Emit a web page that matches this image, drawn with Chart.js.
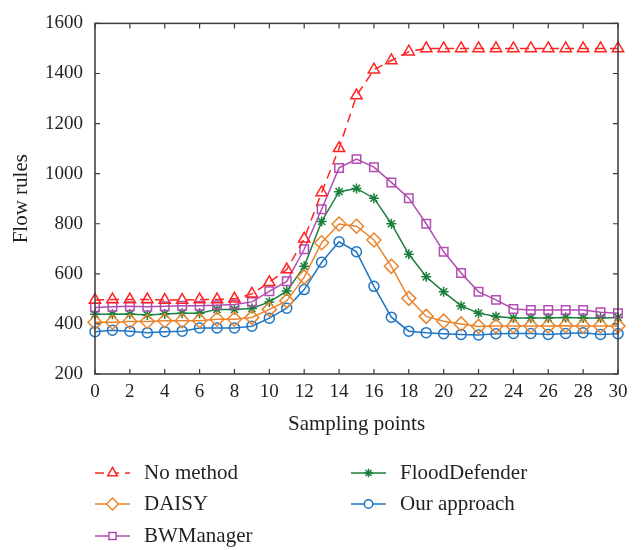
<!DOCTYPE html>
<html>
<head>
<meta charset="utf-8">
<script src="https://cdn.jsdelivr.net/npm/chart.js@4.4.0/dist/chart.umd.min.js"></script>
<style>
    html, body { margin: 0; padding: 0; background: #fff; }
    #wrap { width: 641px; height: 550px; }
</style>
</head>
<body>
<div id="wrap"><canvas id="chart0" width="641" height="550"></canvas></div>
<script>
// Sampling points on the x axis
const samplePoints = [0,1,2,3,4,5,6,7,8,9,10,11,12,13,14,15,16,17,18,19,20,21,22,23,24,25,26,27,28,29,30];
const xTicks = [0,2,4,6,8,10,12,14,16,18,20,22,24,26,28,30];
const yTicks = [200,400,600,800,1000,1200,1400,1600];

// Flow rules per method
const noMethod = [495,497,497,497,495,495,497,497,500,520,566,617,740,925,1101,1312,1415,1452,1487,1500,1500,1500,1500,1500,1500,1500,1500,1500,1500,1500,1500];
const daisy = [407,407,410,410,413,413,413,419,419,426,458,492,587,724,799,790,735,630,502,430,411,400,390,392,392,392,392,393,392,392,392];
const bwManager = [466,469,471,469,471,473,473,475,478,488,530,570,698,858,1023,1058,1026,965,902,800,688,603,528,496,460,456,456,456,456,447,443];
const floodDefender = [439,439,440,436,440,443,443,458,458,462,488,531,630,809,928,941,902,800,678,588,528,472,443,430,424,424,424,426,424,424,426];
const ourApproach = [369,375,371,365,369,371,384,384,384,391,423,463,537,646,728,688,550,427,371,365,361,358,356,361,362,362,358,362,365,358,361];

const seriesNames = ['No method', 'DAISY', 'BWManager', 'FloodDefender', 'Our approach'];

const FONT = '"Liberation Serif", "DejaVu Serif", serif';
const TEXT = '#231f20';
const AXIS = '#3a3a3a';

function toPoints(values) {
    return samplePoints.map(function (x, i) {
        return { x: x, y: values[i] };
    });
}

function makeDataset(label, values, color, style, radius, dash) {
    return {
        label: label,
        data: toPoints(values),
        borderColor: color,
        backgroundColor: 'rgba(0,0,0,0)',
        borderWidth: 1.5,
        borderDash: dash || [],
        pointStyle: style,
        pointRadius: radius,
        pointBorderWidth: 1.5,
        pointBorderColor: color,
        pointBackgroundColor: 'rgba(0,0,0,0)',
        tension: 0,
        clip: false
    };
}

// Box around the plot with inward ticks on all four sides
const framePlugin = {
    id: 'frame',
    afterDatasetsDraw: function (chart) {
        const ctx = chart.ctx;
        const area = chart.chartArea;
        const xs = chart.scales.x;
        const ys = chart.scales.y;
        const len = 5;
        ctx.save();
        ctx.strokeStyle = AXIS;
        ctx.lineWidth = 1.5;
        ctx.strokeRect(area.left, area.top, area.right - area.left, area.bottom - area.top);
        ctx.lineWidth = 1.2;
        ctx.beginPath();
        xTicks.forEach(function (v) {
            const px = xs.getPixelForValue(v);
            ctx.moveTo(px, area.bottom);
            ctx.lineTo(px, area.bottom - len);
            ctx.moveTo(px, area.top);
            ctx.lineTo(px, area.top + len);
        });
        yTicks.forEach(function (v) {
            const py = ys.getPixelForValue(v);
            ctx.moveTo(area.left, py);
            ctx.lineTo(area.left + len, py);
            ctx.moveTo(area.right, py);
            ctx.lineTo(area.right - len, py);
        });
        ctx.stroke();
        ctx.restore();
    }
};

// Two-column legend below the axis title, filled column by column
const legendPlugin = {
    id: 'colLegend',
    afterDraw: function (chart) {
        const ctx = chart.ctx;
        const area = chart.chartArea;
        const cols = [area.left, area.left + 256];
        const rows = [area.bottom + 99, area.bottom + 130, area.bottom + 162];
        ctx.save();
        chart.data.datasets.forEach(function (ds, i) {
            const col = Math.floor(i / 3);
            const row = i % 3;
            const x0 = cols[col];
            const y = rows[row];
            ctx.strokeStyle = ds.borderColor;
            ctx.lineWidth = 1.5;
            ctx.setLineDash(ds.borderDash);
            ctx.beginPath();
            ctx.moveTo(x0, y);
            ctx.lineTo(x0 + 35, y);
            ctx.stroke();
            ctx.setLineDash([]);
            ctx.fillStyle = '#fff';
            Chart.helpers.drawPoint(ctx, {
                pointStyle: ds.pointStyle,
                radius: ds.pointRadius * 0.85,
                rotation: 0,
                borderWidth: 1.5
            }, x0 + 17.5, y);
            ctx.fillStyle = TEXT;
            ctx.font = '21px ' + FONT;
            ctx.textBaseline = 'middle';
            ctx.textAlign = 'left';
            ctx.fillText(ds.label, x0 + 49, y);
        });
        ctx.restore();
    }
};

function plainLabel(value) {
    return String(value);
}

function drawChart() {
    const ctx = document.getElementById('chart0');
    new Chart(ctx, {
        type: 'line',
        data: {
            datasets: [
                makeDataset(seriesNames[0], noMethod, '#ff2424', 'triangle', 6.5, [9, 6]),
                makeDataset(seriesNames[1], daisy, '#ea852f', 'rectRot', 7),
                makeDataset(seriesNames[2], bwManager, '#b24cb1', 'rect', 6),
                makeDataset(seriesNames[3], floodDefender, '#1b7f3c', 'star', 5),
                makeDataset(seriesNames[4], ourApproach, '#1f76c4', 'circle', 5)
            ]
        },
        options: {
            responsive: false,
            animation: false,
            layout: {
                padding: { left: 0, top: 14, right: 23, bottom: 113 }
            },
            plugins: {
                legend: { display: false },
                tooltip: { enabled: false }
            },
            scales: {
                x: {
                    type: 'linear',
                    min: 0,
                    max: 30,
                    afterBuildTicks: function (scale) {
                        scale.ticks = xTicks.map(function (v) { return { value: v }; });
                    },
                    afterFit: function (scale) {
                        scale.height = 63;
                    },
                    grid: { display: false, drawTicks: false },
                    border: { display: false },
                    ticks: {
                        padding: 7,
                        color: TEXT,
                        font: { family: FONT, size: 19 },
                        maxRotation: 0,
                        callback: plainLabel
                    },
                    title: {
                        display: true,
                        text: 'Sampling points',
                        color: TEXT,
                        font: { family: FONT, size: 21 },
                        padding: 0
                    }
                },
                y: {
                    min: 200,
                    max: 1600,
                    afterBuildTicks: function (scale) {
                        scale.ticks = yTicks.map(function (v) { return { value: v }; });
                    },
                    afterFit: function (scale) {
                        scale.width = 95;
                    },
                    grid: { display: false, drawTicks: false },
                    border: { display: false },
                    ticks: {
                        padding: 12,
                        color: TEXT,
                        font: { family: FONT, size: 19 },
                        callback: plainLabel
                    },
                    title: {
                        display: true,
                        text: 'Flow rules',
                        color: TEXT,
                        font: { family: FONT, size: 21 },
                        padding: { top: 9, bottom: 0 }
                    }
                }
            }
        },
        plugins: [framePlugin, legendPlugin]
    });
}

drawChart();
</script>
</body>
</html>
